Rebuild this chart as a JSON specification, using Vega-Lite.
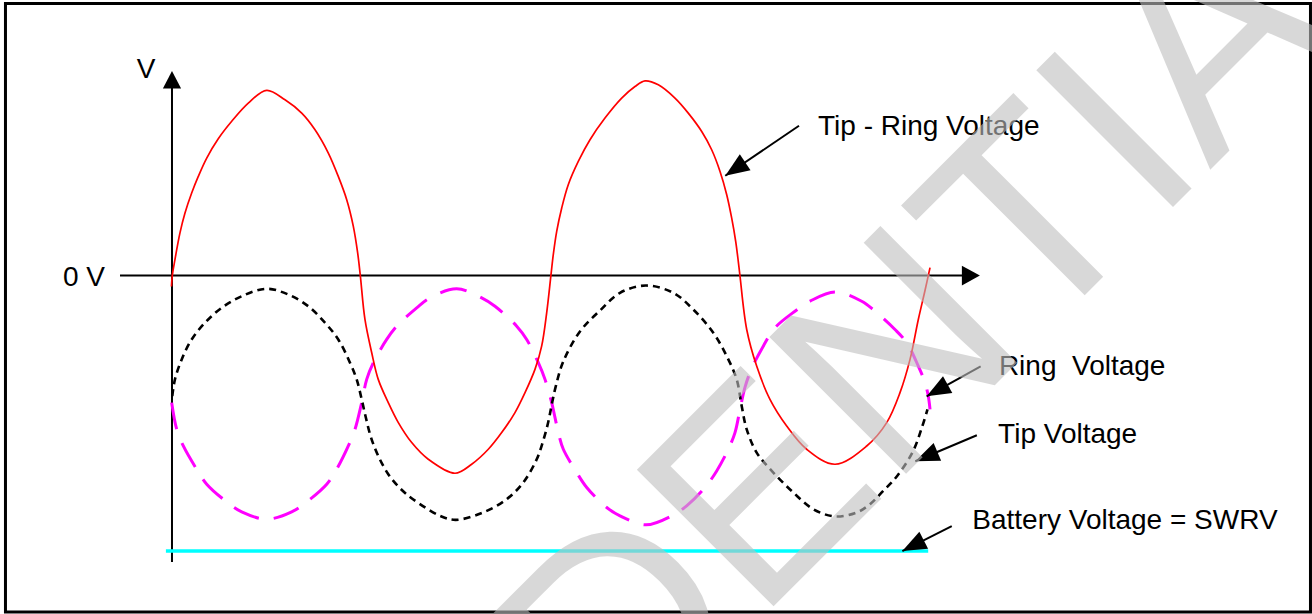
{
  "$schema": "https://vega.github.io/schema/vega-lite/v6.json",
  "width": 1312,
  "height": 614,
  "padding": 0,
  "autosize": {"type": "fit", "contains": "padding"},
  "background": "white",
  "view": {"stroke": null},
  "datasets": {
    "tipRing": [
      {"t": -0.07, "V": -5.5}, {"t": 0.04, "V": 0}, {"t": 0.39, "V": 8}, {"t": 1.05, "V": 21.35}, {"t": 1.71, "V": 31.35},
      {"t": 2.59, "V": 41.35}, {"t": 3.46, "V": 49.65}, {"t": 4.57, "V": 58.85}, {"t": 6.09, "V": 68.5}, {"t": 7.86, "V": 77.25},
      {"t": 10.04, "V": 86.35}, {"t": 12.46, "V": 92.75}, {"t": 14.87, "V": 88}, {"t": 17.07, "V": 81.35}, {"t": 18.82, "V": 73},
      {"t": 20.57, "V": 61.35}, {"t": 21.88, "V": 49.65}, {"t": 22.99, "V": 38}, {"t": 23.86, "V": 24.65}, {"t": 24.43, "V": 11.35},
      {"t": 24.78, "V": 0}, {"t": 25.39, "V": -22}, {"t": 26.28, "V": -38.65}, {"t": 27.14, "V": -52}, {"t": 28.46, "V": -63.65},
      {"t": 29.78, "V": -73.65}, {"t": 31.54, "V": -83.65}, {"t": 33.72, "V": -92}, {"t": 37.24, "V": -99}, {"t": 39.43, "V": -94.5},
      {"t": 41.62, "V": -87}, {"t": 43.38, "V": -78.65}, {"t": 45.13, "V": -68.65}, {"t": 46.45, "V": -58.65}, {"t": 47.76, "V": -47},
      {"t": 48.64, "V": -35.35}, {"t": 49.3, "V": -18.65}, {"t": 49.87, "V": 0.5}, {"t": 50.17, "V": 10.5}, {"t": 50.62, "V": 22.15},
      {"t": 51.28, "V": 33.85}, {"t": 52.14, "V": 45.5}, {"t": 53.46, "V": 57.15}, {"t": 55.0, "V": 68}, {"t": 56.97, "V": 78.85},
      {"t": 59.17, "V": 88.85}, {"t": 60.92, "V": 94.65}, {"t": 62.24, "V": 97.5}, {"t": 63.99, "V": 95.5}, {"t": 66.18, "V": 88.85},
      {"t": 67.93, "V": 81.35}, {"t": 69.7, "V": 72.15}, {"t": 71.01, "V": 63}, {"t": 72.11, "V": 52.15}, {"t": 72.99, "V": 40.5},
      {"t": 73.64, "V": 28.85}, {"t": 74.17, "V": 17.15}, {"t": 74.51, "V": 7.15}, {"t": 74.74, "V": -0.35}, {"t": 75.62, "V": -27},
      {"t": 76.93, "V": -45.35}, {"t": 78.68, "V": -62}, {"t": 80.88, "V": -75.35}, {"t": 83.51, "V": -87}, {"t": 87.24, "V": -94.5},
      {"t": 91.41, "V": -85.35}, {"t": 94.04, "V": -73.65}, {"t": 95.79, "V": -58.65}, {"t": 97.11, "V": -42}, {"t": 98.2, "V": -22},
      {"t": 99.08, "V": -7.5}, {"t": 99.74, "V": 4}
    ],
    "tip": [
      {"t": 0.04, "V": -60.35}, {"t": 0.39, "V": -52}, {"t": 1.28, "V": -42}, {"t": 2.59, "V": -32}, {"t": 4.34, "V": -23.65},
      {"t": 6.54, "V": -16.15}, {"t": 9.17, "V": -10.35}, {"t": 12.46, "V": -6.65}, {"t": 15.3, "V": -9.5}, {"t": 17.93, "V": -15.35},
      {"t": 20.13, "V": -23.65}, {"t": 21.88, "V": -32}, {"t": 23.42, "V": -43.65}, {"t": 24.3, "V": -52}, {"t": 24.96, "V": -62},
      {"t": 25.53, "V": -71.5}, {"t": 26.18, "V": -81}, {"t": 27.14, "V": -90.35}, {"t": 28.46, "V": -99.5}, {"t": 30.0, "V": -106.5},
      {"t": 31.71, "V": -112}, {"t": 35.26, "V": -120.35}, {"t": 37.33, "V": -122.35}, {"t": 40.96, "V": -118.65}, {"t": 44.04, "V": -112},
      {"t": 46.22, "V": -103.65}, {"t": 47.99, "V": -92}, {"t": 48.82, "V": -83}, {"t": 49.47, "V": -74}, {"t": 50.0, "V": -64},
      {"t": 50.53, "V": -55}, {"t": 51.49, "V": -43}, {"t": 53.68, "V": -28}, {"t": 56.32, "V": -17.5}, {"t": 58.95, "V": -8.65},
      {"t": 62.33, "V": -5}, {"t": 65.96, "V": -8.65}, {"t": 68.59, "V": -17}, {"t": 71.22, "V": -28.65}, {"t": 72.99, "V": -40.35},
      {"t": 74.3, "V": -52}, {"t": 74.96, "V": -65.35}, {"t": 75.62, "V": -77}, {"t": 76.93, "V": -88.65}, {"t": 79.12, "V": -98.65},
      {"t": 81.75, "V": -108.65}, {"t": 84.38, "V": -117}, {"t": 87.24, "V": -120.65}, {"t": 90.09, "V": -118.65}, {"t": 91.84, "V": -114.5},
      {"t": 93.55, "V": -108}, {"t": 95.39, "V": -100.5}, {"t": 97.5, "V": -88}, {"t": 98.68, "V": -76}, {"t": 99.41, "V": -67}
    ],
    "ring": [
      {"t": -0.04, "V": -63.65}, {"t": 0.62, "V": -77}, {"t": 1.49, "V": -85.35}, {"t": 3.25, "V": -97}, {"t": 4.57, "V": -104.5},
      {"t": 7.2, "V": -113.35}, {"t": 9.17, "V": -118.35}, {"t": 12.46, "V": -122}, {"t": 15.75, "V": -118.35}, {"t": 17.72, "V": -113.35},
      {"t": 20.36, "V": -104.5}, {"t": 21.67, "V": -97}, {"t": 23.2, "V": -85.35}, {"t": 24.08, "V": -77}, {"t": 24.96, "V": -63.65},
      {"t": 25.62, "V": -52}, {"t": 26.49, "V": -43.65}, {"t": 28.25, "V": -32}, {"t": 29.57, "V": -25.35}, {"t": 32.2, "V": -16.15},
      {"t": 33.95, "V": -11.15}, {"t": 37.46, "V": -6.65}, {"t": 40.75, "V": -11.15}, {"t": 42.5, "V": -15.35}, {"t": 45.36, "V": -25.35},
      {"t": 46.67, "V": -32}, {"t": 48.2, "V": -43.65}, {"t": 49.08, "V": -52}, {"t": 49.96, "V": -63.65}, {"t": 50.39, "V": -71},
      {"t": 50.92, "V": -80}, {"t": 51.49, "V": -87}, {"t": 53.25, "V": -98.65}, {"t": 54.57, "V": -106.15}, {"t": 57.2, "V": -116.15},
      {"t": 58.95, "V": -120.35}, {"t": 62.37, "V": -124.85}, {"t": 65.75, "V": -120.35}, {"t": 67.72, "V": -115.35}, {"t": 70.13, "V": -106.15},
      {"t": 71.67, "V": -97.85}, {"t": 73.2, "V": -87}, {"t": 74.08, "V": -78.65}, {"t": 74.74, "V": -67}, {"t": 75.39, "V": -56},
      {"t": 76.28, "V": -46.5}, {"t": 77.8, "V": -35.35}, {"t": 79.34, "V": -26.15}, {"t": 81.97, "V": -17.85}, {"t": 83.95, "V": -12.85},
      {"t": 87.24, "V": -8.25}, {"t": 90.75, "V": -12.85}, {"t": 92.5, "V": -17.85}, {"t": 95.13, "V": -27}, {"t": 96.67, "V": -33.65},
      {"t": 98.2, "V": -45.35}, {"t": 99.08, "V": -53.65}, {"t": 99.51, "V": -60.35}, {"t": 99.74, "V": -67}
    ],
    "frame": [{"x": -21.91, "y": 136.25, "x2": 149.8, "y2": -168.5}],
    "axes": [
      {"name": "V", "x": 0, "y": 95, "x2": 0, "y2": -143.5},
      {"name": "t", "x": -6.84, "y": 0, "x2": 104.5, "y2": 0}
    ],
    "axisHeads": [
      {"name": "V", "x": 0, "y": 102.5},
      {"name": "t", "x": 106.3, "y": 0}
    ],
    "battery": [{"x": -0.8, "x2": 99.5, "V": -138}],
    "pointers": [
      {"label": "Tip - Ring Voltage", "x": 82.5, "y": 75, "x2": 72.8, "y2": 50},
      {"label": "Ring  Voltage", "x": 106.4, "y": -45.5, "x2": 99.3, "y2": -60.5},
      {"label": "Tip Voltage", "x": 105.9, "y": -80, "x2": 97.8, "y2": -93},
      {"label": "Battery Voltage = SWRV", "x": 102.6, "y": -125.5, "x2": 96.1, "y2": -138}
    ],
    "labels": [
      {"text": "V", "x": -4.64, "y": 99},
      {"text": "0 V", "x": -14.34, "y": -5},
      {"text": "Tip - Ring Voltage", "x": 85.0, "y": 70.5},
      {"text": "Ring\u00a0 Voltage", "x": 108.8, "y": -50},
      {"text": "Tip Voltage", "x": 108.7, "y": -84},
      {"text": "Battery Voltage = SWRV", "x": 105.3, "y": -127}
    ],
    "watermark": [{"text": "CONFIDENTIAL", "x": 72.67, "y": -190.35}]
  },
  "encoding": {
    "x": {"type": "quantitative", "scale": {"domain": [-22.63, 150], "nice": false, "zero": false}, "axis": null},
    "y": {"type": "quantitative", "scale": {"domain": [-169, 138], "nice": false, "zero": false}, "axis": null}
  },
  "layer": [
    {
      "data": {"name": "frame"},
      "mark": {"type": "rect", "fill": null, "fillOpacity": 0, "stroke": "black", "strokeWidth": 3},
      "encoding": {"x": {"field": "x", "type": "quantitative"}, "y": {"field": "y", "type": "quantitative"}, "x2": {"field": "x2"}, "y2": {"field": "y2"}}
    },
    {
      "data": {"name": "axes"},
      "mark": {"type": "rule", "color": "black", "strokeWidth": 2},
      "encoding": {"x": {"field": "x", "type": "quantitative"}, "y": {"field": "y", "type": "quantitative"}, "x2": {"field": "x2"}, "y2": {"field": "y2"}}
    },
    {
      "data": {"name": "axisHeads"},
      "transform": [{"filter": "datum.name === 'V'"}],
      "mark": {"type": "point", "shape": "M0,0L-1,-0.52L-1,0.52Z", "filled": true, "color": "black", "opacity": 1, "strokeWidth": 0, "size": 1225, "angle": 270},
      "encoding": {"x": {"field": "x", "type": "quantitative"}, "y": {"field": "y", "type": "quantitative"}}
    },
    {
      "data": {"name": "axisHeads"},
      "transform": [{"filter": "datum.name === 't'"}],
      "mark": {"type": "point", "shape": "M0,0L-1,-0.55L-1,0.55Z", "filled": true, "color": "black", "opacity": 1, "strokeWidth": 0, "size": 1296, "angle": 0},
      "encoding": {"x": {"field": "x", "type": "quantitative"}, "y": {"field": "y", "type": "quantitative"}}
    },
    {
      "data": {"name": "battery"},
      "mark": {"type": "rule", "color": "#00ffff", "strokeWidth": 3.5},
      "encoding": {"x": {"field": "x", "type": "quantitative"}, "x2": {"field": "x2"}, "y": {"field": "V", "type": "quantitative"}}
    },
    {
      "data": {"name": "ring"},
      "mark": {"type": "line", "color": "#ff00ff", "strokeWidth": 3, "strokeDash": [27, 15], "interpolate": "catmull-rom"},
      "encoding": {"x": {"field": "t", "type": "quantitative"}, "y": {"field": "V", "type": "quantitative"}}
    },
    {
      "data": {"name": "tip"},
      "mark": {"type": "line", "color": "black", "strokeWidth": 2.6, "strokeDash": [7, 5], "interpolate": "catmull-rom"},
      "encoding": {"x": {"field": "t", "type": "quantitative"}, "y": {"field": "V", "type": "quantitative"}}
    },
    {
      "data": {"name": "tipRing"},
      "mark": {"type": "line", "color": "#ff0000", "strokeWidth": 1.7, "interpolate": "catmull-rom"},
      "encoding": {"x": {"field": "t", "type": "quantitative"}, "y": {"field": "V", "type": "quantitative"}}
    },
    {
      "data": {"name": "pointers"},
      "mark": {"type": "rule", "color": "black", "strokeWidth": 2},
      "encoding": {"x": {"field": "x", "type": "quantitative"}, "y": {"field": "y", "type": "quantitative"}, "x2": {"field": "x2"}, "y2": {"field": "y2"}}
    },
    {
      "data": {"name": "pointers"},
      "transform": [{"filter": "datum.label === 'Tip - Ring Voltage'"}],
      "mark": {"type": "point", "shape": "M0,0L-1,-0.4L-1,0.4Z", "filled": true, "color": "black", "opacity": 1, "strokeWidth": 0, "size": 2304, "angle": 146},
      "encoding": {"x": {"field": "x2", "type": "quantitative"}, "y": {"field": "y2", "type": "quantitative"}}
    },
    {
      "data": {"name": "pointers"},
      "transform": [{"filter": "datum.label === 'Ring  Voltage'"}],
      "mark": {"type": "point", "shape": "M0,0L-1,-0.4L-1,0.4Z", "filled": true, "color": "black", "opacity": 1, "strokeWidth": 0, "size": 2304, "angle": 151},
      "encoding": {"x": {"field": "x2", "type": "quantitative"}, "y": {"field": "y2", "type": "quantitative"}}
    },
    {
      "data": {"name": "pointers"},
      "transform": [{"filter": "datum.label === 'Tip Voltage'"}],
      "mark": {"type": "point", "shape": "M0,0L-1,-0.4L-1,0.4Z", "filled": true, "color": "black", "opacity": 1, "strokeWidth": 0, "size": 2304, "angle": 157},
      "encoding": {"x": {"field": "x2", "type": "quantitative"}, "y": {"field": "y2", "type": "quantitative"}}
    },
    {
      "data": {"name": "pointers"},
      "transform": [{"filter": "datum.label === 'Battery Voltage = SWRV'"}],
      "mark": {"type": "point", "shape": "M0,0L-1,-0.4L-1,0.4Z", "filled": true, "color": "black", "opacity": 1, "strokeWidth": 0, "size": 2304, "angle": 153},
      "encoding": {"x": {"field": "x2", "type": "quantitative"}, "y": {"field": "y2", "type": "quantitative"}}
    },
    {
      "data": {"name": "labels"},
      "mark": {"type": "text", "align": "left", "baseline": "alphabetic", "font": "Liberation Sans", "fontSize": 28, "color": "black"},
      "encoding": {"x": {"field": "x", "type": "quantitative"}, "y": {"field": "y", "type": "quantitative"}, "text": {"field": "text"}}
    },
    {
      "data": {"name": "watermark"},
      "mark": {"type": "text", "align": "center", "baseline": "alphabetic", "font": "Liberation Sans", "fontSize": 281, "angle": 315, "color": "#bfbfbf", "opacity": 0.6, "clip": true},
      "encoding": {"x": {"field": "x", "type": "quantitative"}, "y": {"field": "y", "type": "quantitative"}, "text": {"field": "text"}}
    }
  ]
}
